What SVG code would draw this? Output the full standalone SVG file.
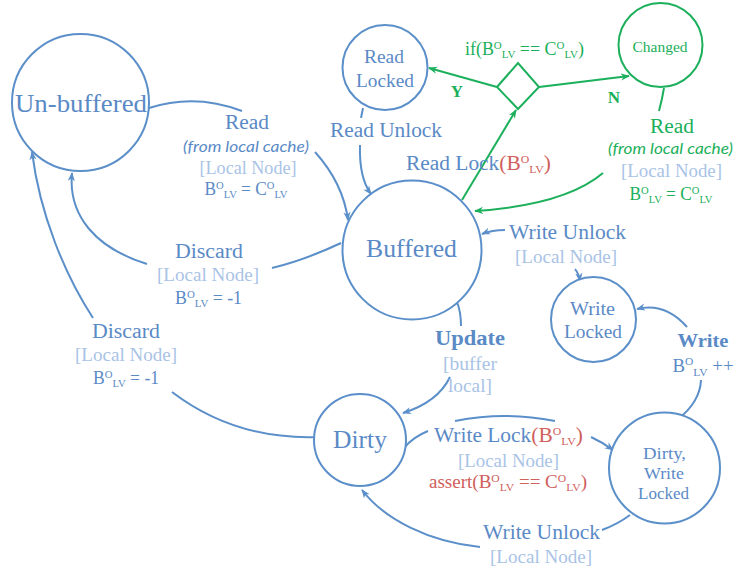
<svg xmlns="http://www.w3.org/2000/svg" width="734" height="571" viewBox="0 0 734 571">
<style>
text{font-family:"Liberation Serif","DejaVu Serif",serif;text-anchor:middle;font-size:19px}
.b{fill:#5A8AC6}
.l{fill:#A9C3E6}
.g{fill:#1AAF5A}
.r{fill:#D0605C}
.i{font-family:Lato,"Liberation Sans",sans-serif;font-style:italic;font-size:15px}
.bd{font-weight:bold}
.s{font-size:11px}
.nb{fill:#fff;stroke:#5B8FC9;stroke-width:2}
.ng{fill:#fff;stroke:#1DB05C;stroke-width:2}
.cb{fill:none;stroke:#5B8FC9;stroke-width:2}
.cg{fill:none;stroke:#1DB05C;stroke-width:2}
.ab{marker-end:url(#mb)}
.ag{marker-end:url(#mg)}
</style>
<defs>
<marker id="mb" viewBox="0 0 10 8" refX="9" refY="4" markerWidth="9" markerHeight="8" markerUnits="userSpaceOnUse" orient="auto">
<path d="M0,0 L10,4 L0,8 L3,4 z" fill="#5B8FC9"/>
</marker>
<marker id="mg" viewBox="0 0 10 8" refX="9" refY="4" markerWidth="9" markerHeight="8" markerUnits="userSpaceOnUse" orient="auto">
<path d="M0,0 L10,4 L0,8 L3,4 z" fill="#1DB05C"/>
</marker>
</defs>
<rect width="734" height="571" fill="#fff"/>

<g id="connectors">
<path class="cb" d="M149,108 Q195,93 242,111"/>
<path class="cb ab" d="M315,152 Q343,183 348,220"/>
<path class="cb" d="M363,108 L361,118"/>
<path class="cb ab" d="M360,145 Q359,178 371,194"/>
<path class="cb" d="M341,243 Q305,260 272,268"/>
<path class="cb ab" d="M147,264 C95,248 68,215 72,173"/>
<path class="cb ab" d="M93,318 C65,275 40,215 32,152"/>
<path class="cb" d="M318,437 Q235,440 172,392"/>
<path class="cb ab" d="M505,230 Q492,230 482,234"/>
<path class="cb ab" d="M575,269 Q579,274 580,281"/>
<path class="cb ab" d="M687,327 Q665,302 637,309"/>
<path class="cb" d="M678,419 Q700,402 701,380"/>
<path class="cb" d="M457,302 Q461,312 461,326"/>
<path class="cb ab" d="M450,377 Q438,402 403,413"/>
<path class="cb" d="M404,448 Q413,437 428,431"/>
<path class="cb" d="M455,421 Q505,411 555,421"/>
<path class="cb ab" d="M591,437 Q602,442 613,450"/>
<path class="cb" d="M630,515 Q618,524 602,530"/>
<path class="cb ab" d="M480,547 C430,542 385,520 362,490"/>
<polygon class="cg" points="497,87 518,63 539,87 518,109"/>
<path class="cg ag" d="M497,87 L429,68"/>
<path class="cg ag" d="M539,87 L629,76"/>
<path class="cg ag" d="M462,200 L516,110"/>
<path class="cg" d="M664,88 Q662,100 659,111"/>
<path class="cg ag" d="M603,173 Q565,205 475,211"/>
</g>

<g id="unbuffered">
<circle class="nb" cx="80.5" cy="102.5" r="68.5"/>
<text class="b" x="81" y="112" style="font-size:26px" textLength="132" lengthAdjust="spacingAndGlyphs">Un-buffered</text>
</g>
<g id="readlocked">
<circle class="nb" cx="385" cy="67.5" r="42.5"/>
<text class="b" x="384" y="63" textLength="40" lengthAdjust="spacingAndGlyphs">Read</text>
<text class="b" x="385" y="87" textLength="58" lengthAdjust="spacingAndGlyphs">Locked</text>
</g>
<g id="changed">
<circle class="ng" cx="660.5" cy="45" r="42"/>
<text class="g" x="660" y="52" style="font-size:15px" textLength="55" lengthAdjust="spacingAndGlyphs">Changed</text>
</g>
<g id="buffered">
<circle class="nb" cx="412" cy="250" r="69.5"/>
<text class="b" x="411.5" y="257" style="font-size:25.5px" textLength="91" lengthAdjust="spacingAndGlyphs">Buffered</text>
</g>
<g id="writelocked">
<circle class="nb" cx="593.5" cy="319.5" r="42.5"/>
<text class="b" x="592.5" y="315" textLength="45" lengthAdjust="spacingAndGlyphs">Write</text>
<text class="b" x="593" y="338" textLength="58" lengthAdjust="spacingAndGlyphs">Locked</text>
</g>
<g id="dirty">
<circle class="nb" cx="360" cy="440" r="46"/>
<text class="b" x="360" y="448" style="font-size:25.5px" textLength="54" lengthAdjust="spacingAndGlyphs">Dirty</text>
</g>
<g id="dirtywritelocked">
<circle class="nb" cx="664.5" cy="468" r="55.5"/>
<text class="b" x="664.5" y="459" style="font-size:16.5px" textLength="43" lengthAdjust="spacingAndGlyphs">Dirty,</text>
<text class="b" x="664" y="479" style="font-size:16.5px" textLength="40" lengthAdjust="spacingAndGlyphs">Write</text>
<text class="b" x="663.5" y="499" style="font-size:16.5px" textLength="51" lengthAdjust="spacingAndGlyphs">Locked</text>
</g>

<g id="labels">
<text class="b" x="247" y="129" style="font-size:20px" textLength="44" lengthAdjust="spacingAndGlyphs">Read</text>
<text class="b i" x="246" y="152" textLength="126" lengthAdjust="spacingAndGlyphs">(from local cache)</text>
<text class="l" x="248" y="174" textLength="97" lengthAdjust="spacingAndGlyphs">[Local Node]</text>
<text class="b" x="246" y="195" style="font-size:18px" textLength="83" lengthAdjust="spacingAndGlyphs">B<tspan class="s" dy="-6">O</tspan><tspan class="s" dy="9">LV</tspan><tspan dy="-3"> = C</tspan><tspan class="s" dy="-6">O</tspan><tspan class="s" dy="9">LV</tspan></text>

<text class="b" x="386" y="137" style="font-size:20px" textLength="112" lengthAdjust="spacingAndGlyphs">Read Unlock</text>
<text class="b" x="406" y="170" style="font-size:20px;text-anchor:start" textLength="145" lengthAdjust="spacingAndGlyphs">Read Lock<tspan class="r">(B</tspan><tspan class="r s" dy="-7">O</tspan><tspan class="r s" dy="10">LV</tspan><tspan class="r" dy="-3">)</tspan></text>

<text class="g" x="465" y="55" style="font-size:18px;text-anchor:start" textLength="119" lengthAdjust="spacingAndGlyphs">if(B<tspan class="s" dy="-6">O</tspan><tspan class="s" dy="9">LV</tspan><tspan dy="-3"> == C</tspan><tspan class="s" dy="-6">O</tspan><tspan class="s" dy="9">LV</tspan><tspan dy="-3">)</tspan></text>
<text class="g bd" x="457" y="97" style="font-size:17px">Y</text>
<text class="g bd" x="614" y="103" style="font-size:17px">N</text>

<text class="g" x="672" y="133" style="font-size:20px" textLength="44" lengthAdjust="spacingAndGlyphs">Read</text>
<text class="g i" x="670.5" y="154" textLength="125" lengthAdjust="spacingAndGlyphs">(from local cache)</text>
<text class="l" x="671.5" y="177" textLength="101" lengthAdjust="spacingAndGlyphs">[Local Node]</text>
<text class="g" x="671" y="200" style="font-size:18px" textLength="83" lengthAdjust="spacingAndGlyphs">B<tspan class="s" dy="-6">O</tspan><tspan class="s" dy="9">LV</tspan><tspan dy="-3"> = C</tspan><tspan class="s" dy="-6">O</tspan><tspan class="s" dy="9">LV</tspan></text>

<text class="b" x="209" y="258" style="font-size:20px" textLength="68" lengthAdjust="spacingAndGlyphs">Discard</text>
<text class="l" x="208" y="281" textLength="102" lengthAdjust="spacingAndGlyphs">[Local Node]</text>
<text class="b" x="208.5" y="304" style="font-size:18px" textLength="67" lengthAdjust="spacingAndGlyphs">B<tspan class="s" dy="-6">O</tspan><tspan class="s" dy="9">LV</tspan><tspan dy="-3"> = -1</tspan></text>

<text class="b" x="126" y="338" style="font-size:20px" textLength="68" lengthAdjust="spacingAndGlyphs">Discard</text>
<text class="l" x="126" y="361" textLength="102" lengthAdjust="spacingAndGlyphs">[Local Node]</text>
<text class="b" x="126" y="384" style="font-size:18px" textLength="66" lengthAdjust="spacingAndGlyphs">B<tspan class="s" dy="-6">O</tspan><tspan class="s" dy="9">LV</tspan><tspan dy="-3"> = -1</tspan></text>

<text class="b" x="567.5" y="239" style="font-size:20px" textLength="117" lengthAdjust="spacingAndGlyphs">Write Unlock</text>
<text class="l" x="566" y="263" textLength="102" lengthAdjust="spacingAndGlyphs">[Local Node]</text>

<text class="b bd" x="703" y="347" textLength="51" lengthAdjust="spacingAndGlyphs">Write</text>
<text class="b" x="703" y="372" style="font-size:18px" textLength="61" lengthAdjust="spacingAndGlyphs">B<tspan class="s" dy="-7">O</tspan><tspan class="s" dy="11">LV</tspan><tspan dy="-4"> ++</tspan></text>

<text class="b bd" x="470" y="345" style="font-size:20px" textLength="70" lengthAdjust="spacingAndGlyphs">Update</text>
<text class="l" x="470" y="370" textLength="54" lengthAdjust="spacingAndGlyphs">[buffer</text>
<text class="l" x="470" y="392" textLength="44" lengthAdjust="spacingAndGlyphs">local]</text>

<text class="b" x="434" y="442" style="font-size:20px;text-anchor:start" textLength="149" lengthAdjust="spacingAndGlyphs">Write Lock<tspan class="r">(B</tspan><tspan class="r s" dy="-7">O</tspan><tspan class="r s" dy="10">LV</tspan><tspan class="r" dy="-3">)</tspan></text>
<text class="l" x="508.5" y="467" textLength="101" lengthAdjust="spacingAndGlyphs">[Local Node]</text>
<text class="r" x="508" y="488" style="font-size:18px" textLength="158" lengthAdjust="spacingAndGlyphs">assert(B<tspan class="s" dy="-6">O</tspan><tspan class="s" dy="9">LV</tspan><tspan dy="-3"> == C</tspan><tspan class="s" dy="-6">O</tspan><tspan class="s" dy="9">LV</tspan><tspan dy="-3">)</tspan></text>

<text class="b" x="541.5" y="539" style="font-size:20px" textLength="117" lengthAdjust="spacingAndGlyphs">Write Unlock</text>
<text class="l" x="541" y="563" textLength="102" lengthAdjust="spacingAndGlyphs">[Local Node]</text>
</g>
</svg>
